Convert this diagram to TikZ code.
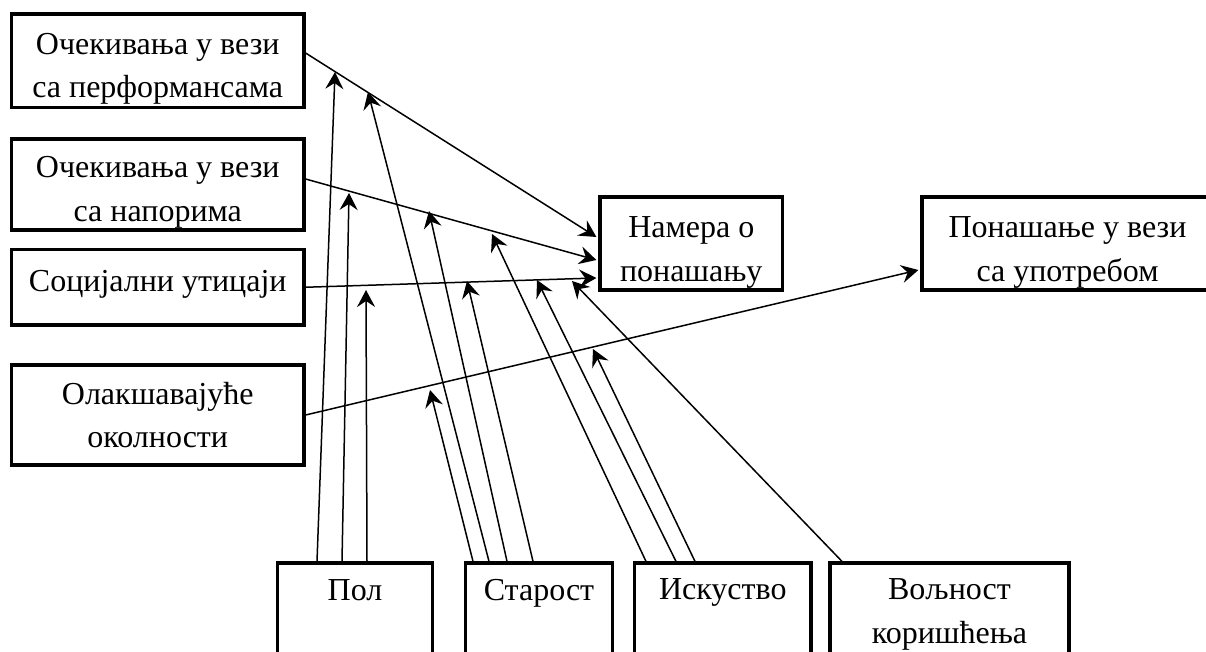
\documentclass[tikz,border=0pt]{standalone}
\usepackage{fontspec}
\setmainfont{Liberation Serif}
\usetikzlibrary{arrows.meta,calc}

\begin{document}
\begin{tikzpicture}[x=0.5pt,y=-0.5pt,
  box/.style={draw,line width=1.6pt,rectangle,inner sep=0pt},
  lbl/.style={inner sep=0pt,anchor=base,font=\fontsize{16}{21.75}\selectfont},
  link/.style={line width=0.75pt,-{Stealth[length=8.5pt,width=9pt,inset=3pt]}}]

\useasboundingbox (0,0) rectangle (1206,652);
\clip (0,0) rectangle (1206,652);

% left column: predictors
\node[box,minimum width=146.25pt,minimum height=46.75pt] (b1) at (157.75,60.75) {};
\node[lbl] (b1a) at (157.75,55) {Очекивања у вези};
\node[lbl] (b1b) at (157.75,98) {са перформансама};

\node[box,minimum width=146.25pt,minimum height=45.5pt] (b2) at (157.75,184.5) {};
\node[lbl] (b2a) at (157.75,178) {Очекивања у вези};
\node[lbl] (b2b) at (157.75,222) {са напорима};

\node[box,minimum width=146.25pt,minimum height=37.75pt] (b3) at (157.75,287.25) {};
\node[lbl] (b3a) at (157.75,292) {Социјални утицаји};

\node[box,minimum width=146.25pt,minimum height=50pt] (b4) at (157.75,415) {};
\node[lbl] (b4a) at (157.75,405) {Олакшавајуће};
\node[lbl] (b4b) at (157.75,448) {околности};

% intention and use behaviour
\node[box,minimum width=91.25pt,minimum height=46.5pt] (nam) at (691.25,243.5) {};
\node[lbl] (nama) at (691.25,238) {Намера о};
\node[lbl] (namb) at (691.25,282) {понашању};

\node[box,minimum width=145.5pt,minimum height=46.5pt] (pon) at (1067.5,243.5) {};
\node[lbl] (pona) at (1067.5,238) {Понашање у вези};
\node[lbl] (ponb) at (1067.5,282) {са употребом};

% bottom row: moderators
\node[box,minimum width=77.5pt,minimum height=70pt] (pol) at (355,633) {};
\node[lbl] (pola) at (355,600) {Пол};

\node[box,minimum width=73.5pt,minimum height=70pt] (sta) at (539,633) {};
\node[lbl] (staa) at (539,600) {Старост};

\node[box,minimum width=88.25pt,minimum height=70pt] (isk) at (722.75,633) {};
\node[lbl] (iska) at (722.75,599) {Искуство};

\node[box,minimum width=119.5pt,minimum height=70pt] (vol) at (949.5,633) {};
\node[lbl] (vola) at (949.5,599) {Вољност};
\node[lbl] (volb) at (949.5,643) {коришћења};

% main paths
\draw[link] ($(b1.east)+(0,-7.75)$) -- ($(nam.west)+(-2,-6.5)$);
\draw[link] ($(b2.east)+(0,-5.5)$) -- ($(nam.west)+(-2,16.5)$);
\draw[link] (b3.east) -- ($(nam.west)+(-2,34.5)$);
\draw[link] (b4.east) -- ($(pon.west)+(-2,26.5)$);

% points where the moderators act on the paths
\coordinate (m1) at (335,72);
\coordinate (m2) at (349,193);
\coordinate (m3) at (366,290);
\coordinate (m4) at (430,390);
\coordinate (m5) at (368,92);
\coordinate (m6) at (429,211);
\coordinate (m7) at (467,281);
\coordinate (m8) at (492,234);
\coordinate (m9) at (537,280);
\coordinate (m10) at (593,349);
\coordinate (m11) at (572,281);

% moderator arrows
\draw[link] ($(pol.north)+(-38,0)$) -- (m1);
\draw[link] ($(pol.north)+(-13,0)$) -- (m2);
\draw[link] ($(pol.north)+(12,0)$) -- (m3);

\draw[link] ($(sta.north)+(-66,0)$) -- (m4);
\draw[link] ($(sta.north)+(-50,0)$) -- (m5);
\draw[link] ($(sta.north)+(-32,0)$) -- (m6);
\draw[link] ($(sta.north)+(-6,0)$) -- (m7);

\draw[link] ($(isk.north)+(-76.75,0)$) -- (m8);
\draw[link] ($(isk.north)+(-46.75,0)$) -- (m9);
\draw[link] ($(isk.north)+(-27.75,0)$) -- (m10);

\draw[link] ($(vol.north)+(-107.5,0)$) -- (m11);

\end{tikzpicture}
\end{document}
